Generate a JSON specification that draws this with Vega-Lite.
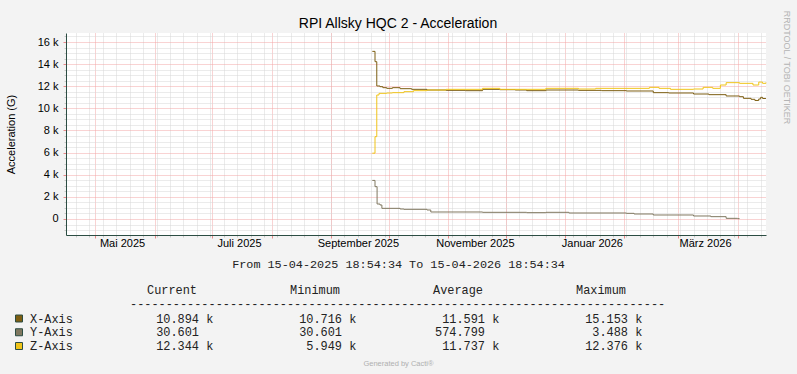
{
  "$schema": "https://vega.github.io/schema/vega-lite/v6.json",
  "autosize": {"type": "none"},
  "width": 700,
  "height": 202,
  "padding": {"left": 66, "top": 33, "right": 31, "bottom": 139},
  "background": "#f3f3f3",
  "config": {"view": {"stroke": null, "fill": "#ffffff"}, "font": "Liberation Sans"},
  "title": {"text": "RPI Allsky HQC 2 - Acceleration", "font": "Liberation Sans", "fontSize": 14, "fontWeight": "normal", "color": "#000000", "anchor": "middle", "frame": "group", "dx": -18, "baseline": "middle", "offset": -28},
  "datasets": {
    "series": [
      {"series": "X-Axis", "time": "2025-09-22T12:00:00Z", "value": 15153},
      {"series": "X-Axis", "time": "2025-09-23T22:00:00Z", "value": 14222},
      {"series": "X-Axis", "time": "2025-09-24T20:00:00Z", "value": 12023},
      {"series": "X-Axis", "time": "2025-09-26T12:00:00Z", "value": 11962},
      {"series": "X-Axis", "time": "2025-09-28T00:00:00Z", "value": 11872},
      {"series": "X-Axis", "time": "2025-09-30T00:00:00Z", "value": 11812},
      {"series": "X-Axis", "time": "2025-10-03T00:00:00Z", "value": 11872},
      {"series": "X-Axis", "time": "2025-10-07T00:00:00Z", "value": 11781},
      {"series": "X-Axis", "time": "2025-10-13T00:00:00Z", "value": 11721},
      {"series": "X-Axis", "time": "2025-10-21T00:00:00Z", "value": 11661},
      {"series": "X-Axis", "time": "2025-10-31T00:00:00Z", "value": 11630},
      {"series": "X-Axis", "time": "2025-11-10T00:00:00Z", "value": 11601},
      {"series": "X-Axis", "time": "2025-11-19T00:00:00Z", "value": 11721},
      {"series": "X-Axis", "time": "2025-11-28T00:00:00Z", "value": 11690},
      {"series": "X-Axis", "time": "2025-12-06T00:00:00Z", "value": 11661},
      {"series": "X-Axis", "time": "2025-12-12T00:00:00Z", "value": 11601},
      {"series": "X-Axis", "time": "2025-12-22T00:00:00Z", "value": 11661},
      {"series": "X-Axis", "time": "2026-01-08T00:00:00Z", "value": 11630},
      {"series": "X-Axis", "time": "2026-01-20T00:00:00Z", "value": 11601},
      {"series": "X-Axis", "time": "2026-02-02T00:00:00Z", "value": 11571},
      {"series": "X-Axis", "time": "2026-02-16T00:00:00Z", "value": 11420},
      {"series": "X-Axis", "time": "2026-02-24T00:00:00Z", "value": 11390},
      {"series": "X-Axis", "time": "2026-03-09T00:00:00Z", "value": 11299},
      {"series": "X-Axis", "time": "2026-03-17T00:00:00Z", "value": 11240},
      {"series": "X-Axis", "time": "2026-03-26T00:00:00Z", "value": 11119},
      {"series": "X-Axis", "time": "2026-04-02T00:00:00Z", "value": 11058},
      {"series": "X-Axis", "time": "2026-04-04T00:00:00Z", "value": 10908},
      {"series": "X-Axis", "time": "2026-04-08T00:00:00Z", "value": 10818},
      {"series": "X-Axis", "time": "2026-04-10T00:00:00Z", "value": 10716},
      {"series": "X-Axis", "time": "2026-04-12T00:00:00Z", "value": 10850},
      {"series": "X-Axis", "time": "2026-04-13T00:00:00Z", "value": 10998},
      {"series": "X-Axis", "time": "2026-04-14T00:00:00Z", "value": 10894},
      {"series": "X-Axis", "time": "2026-04-15T18:00:00Z", "value": 10894},
      {"series": "Y-Axis", "time": "2025-09-22T12:00:00Z", "value": 3488},
      {"series": "Y-Axis", "time": "2025-09-23T22:00:00Z", "value": 2923},
      {"series": "Y-Axis", "time": "2025-09-25T00:00:00Z", "value": 1356},
      {"series": "Y-Axis", "time": "2025-09-26T12:00:00Z", "value": 1266},
      {"series": "Y-Axis", "time": "2025-09-27T12:00:00Z", "value": 964},
      {"series": "Y-Axis", "time": "2025-10-07T00:00:00Z", "value": 904},
      {"series": "Y-Axis", "time": "2025-10-09T00:00:00Z", "value": 874},
      {"series": "Y-Axis", "time": "2025-10-21T00:00:00Z", "value": 814},
      {"series": "Y-Axis", "time": "2025-10-23T00:00:00Z", "value": 633},
      {"series": "Y-Axis", "time": "2025-11-19T00:00:00Z", "value": 603},
      {"series": "Y-Axis", "time": "2025-12-12T00:00:00Z", "value": 572},
      {"series": "Y-Axis", "time": "2025-12-22T00:00:00Z", "value": 603},
      {"series": "Y-Axis", "time": "2026-01-03T00:00:00Z", "value": 542},
      {"series": "Y-Axis", "time": "2026-02-02T00:00:00Z", "value": 512},
      {"series": "Y-Axis", "time": "2026-02-06T00:00:00Z", "value": 452},
      {"series": "Y-Axis", "time": "2026-02-16T00:00:00Z", "value": 362},
      {"series": "Y-Axis", "time": "2026-03-09T00:00:00Z", "value": 271},
      {"series": "Y-Axis", "time": "2026-03-18T00:00:00Z", "value": 211},
      {"series": "Y-Axis", "time": "2026-03-26T00:00:00Z", "value": 60},
      {"series": "Y-Axis", "time": "2026-04-01T00:00:00Z", "value": 30.601},
      {"series": "Y-Axis", "time": "2026-04-02T00:00:00Z", "value": 30.601},
      {"series": "Z-Axis", "time": "2025-09-22T12:00:00Z", "value": 5949},
      {"series": "Z-Axis", "time": "2025-09-23T22:00:00Z", "value": 7442},
      {"series": "Z-Axis", "time": "2025-09-24T20:00:00Z", "value": 11209},
      {"series": "Z-Axis", "time": "2025-09-26T00:00:00Z", "value": 11360},
      {"series": "Z-Axis", "time": "2025-09-30T00:00:00Z", "value": 11390},
      {"series": "Z-Axis", "time": "2025-10-03T00:00:00Z", "value": 11420},
      {"series": "Z-Axis", "time": "2025-10-09T00:00:00Z", "value": 11510},
      {"series": "Z-Axis", "time": "2025-10-14T00:00:00Z", "value": 11601},
      {"series": "Z-Axis", "time": "2025-10-21T00:00:00Z", "value": 11661},
      {"series": "Z-Axis", "time": "2025-10-31T00:00:00Z", "value": 11721},
      {"series": "Z-Axis", "time": "2025-11-19T00:00:00Z", "value": 11812},
      {"series": "Z-Axis", "time": "2025-11-28T00:00:00Z", "value": 11721},
      {"series": "Z-Axis", "time": "2025-12-22T00:00:00Z", "value": 11812},
      {"series": "Z-Axis", "time": "2026-01-08T00:00:00Z", "value": 11751},
      {"series": "Z-Axis", "time": "2026-01-17T00:00:00Z", "value": 11812},
      {"series": "Z-Axis", "time": "2026-02-14T00:00:00Z", "value": 11902},
      {"series": "Z-Axis", "time": "2026-02-19T00:00:00Z", "value": 11812},
      {"series": "Z-Axis", "time": "2026-02-25T00:00:00Z", "value": 11721},
      {"series": "Z-Axis", "time": "2026-03-09T00:00:00Z", "value": 11751},
      {"series": "Z-Axis", "time": "2026-03-14T00:00:00Z", "value": 11902},
      {"series": "Z-Axis", "time": "2026-03-19T00:00:00Z", "value": 11812},
      {"series": "Z-Axis", "time": "2026-03-23T00:00:00Z", "value": 12113},
      {"series": "Z-Axis", "time": "2026-03-26T00:00:00Z", "value": 12324},
      {"series": "Z-Axis", "time": "2026-04-02T00:00:00Z", "value": 12264},
      {"series": "Z-Axis", "time": "2026-04-09T00:00:00Z", "value": 12113},
      {"series": "Z-Axis", "time": "2026-04-12T00:00:00Z", "value": 12376},
      {"series": "Z-Axis", "time": "2026-04-14T00:00:00Z", "value": 12264},
      {"series": "Z-Axis", "time": "2026-04-15T18:00:00Z", "value": 12344}
    ],
    "stats": [
      {"series": "X-Axis", "stat": "Current", "num": "10.894", "unit": "k"},
      {"series": "X-Axis", "stat": "Minimum", "num": "10.716", "unit": "k"},
      {"series": "X-Axis", "stat": "Average", "num": "11.591", "unit": "k"},
      {"series": "X-Axis", "stat": "Maximum", "num": "15.153", "unit": "k"},
      {"series": "Y-Axis", "stat": "Current", "num": "30.601", "unit": ""},
      {"series": "Y-Axis", "stat": "Minimum", "num": "30.601", "unit": ""},
      {"series": "Y-Axis", "stat": "Average", "num": "574.799", "unit": ""},
      {"series": "Y-Axis", "stat": "Maximum", "num": "3.488", "unit": "k"},
      {"series": "Z-Axis", "stat": "Current", "num": "12.344", "unit": "k"},
      {"series": "Z-Axis", "stat": "Minimum", "num": "5.949", "unit": "k"},
      {"series": "Z-Axis", "stat": "Average", "num": "11.737", "unit": "k"},
      {"series": "Z-Axis", "stat": "Maximum", "num": "12.376", "unit": "k"}
    ],
    "columns": [{"stat": "Current"}, {"stat": "Minimum"}, {"stat": "Average"}, {"stat": "Maximum"}],
    "legendRows": [{"series": "X-Axis"}, {"series": "Y-Axis"}, {"series": "Z-Axis"}],
    "separator": [{"line": "---------------------------------------------------------------------------"}]
  },
  "layer": [
    {
      "layer": [
        {
          "data": {"name": "series"},
          "transform": [{"filter": "datum.series === 'X-Axis'"}],
          "mark": {"type": "line", "interpolate": "step-after", "strokeWidth": 1},
          "encoding": {
            "x": {"field": "time", "type": "temporal",
              "scale": {"type": "utc", "nice": false, "domain": [{"year": 2025, "month": 4, "date": 15, "hours": 18, "minutes": 54, "seconds": 34, "utc": true}, {"year": 2026, "month": 4, "date": 15, "hours": 18, "minutes": 54, "seconds": 34, "utc": true}]},
              "axis": {"orient": "bottom", "values": [1745193600000,1745798400000,1746403200000,1747008000000,1747612800000,1748217600000,1748822400000,1749427200000,1750032000000,1750636800000,1751241600000,1751846400000,1752451200000,1753056000000,1753660800000,1754265600000,1754870400000,1755475200000,1756080000000,1756684800000,1757289600000,1757894400000,1758499200000,1759104000000,1759708800000,1760313600000,1760918400000,1761523200000,1762128000000,1762732800000,1763337600000,1763942400000,1764547200000,1765152000000,1765756800000,1766361600000,1766966400000,1767571200000,1768176000000,1768780800000,1769385600000,1769990400000,1770595200000,1771200000000,1771804800000,1772409600000,1773014400000,1773619200000,1774224000000,1774828800000,1775433600000,1776038400000],
                "grid": true, "gridColor": "#d6d6d6", "gridDash": [1, 1], "gridWidth": 1,
                "ticks": true, "tickSize": 2, "tickColor": "#c8c8c8", "labels": false, "domain": false,
                "title": "Generated by Cacti®", "titleFont": "Liberation Sans", "titleFontSize": 7.5, "titleFontWeight": "normal", "titleColor": "#b0b0b0",
                "titleX": 332, "titleY": 128, "titleAlign": "center", "titleBaseline": "middle", "titleAnchor": null}},
            "y": {"field": "value", "type": "quantitative",
              "scale": {"domain": [-1447, 16814], "nice": false, "zero": false},
              "axis": {"orient": "left", "values": [-1000,-500,500,1000,1500,2500,3000,3500,4500,5000,5500,6500,7000,7500,8500,9000,9500,10500,11000,11500,12500,13000,13500,14500,15000,15500,16500],
                "grid": true, "gridColor": "#d6d6d6", "gridDash": [1, 1], "ticks": true, "tickSize": 2, "tickColor": "#c8c8c8",
                "labels": false, "domain": false, "title": null}},
            "color": {"field": "series", "type": "nominal", "scale": {"domain": ["X-Axis", "Y-Axis", "Z-Axis"], "range": ["#7d5e12", "#807860", "#f0c419"]}, "legend": null}
          }
        },
        {
          "data": {"name": "series"},
          "transform": [{"filter": "datum.series === 'Y-Axis'"}],
          "mark": {"type": "line", "interpolate": "step-after", "strokeWidth": 1},
          "encoding": {
            "x": {"field": "time", "type": "temporal",
              "axis": {"orient": "bottom", "values": [1746057600000,1748736000000,1751328000000,1754006400000,1756684800000,1759276800000,1761955200000,1764547200000,1767225600000,1769904000000,1772323200000,1775001600000],
                "grid": true, "gridColor": "#f2a6a6", "gridDash": [1, 1], "gridWidth": 1,
                "ticks": true, "tickSize": 3, "tickColor": "#e88a8a", "labels": false, "domain": false, "title": null}},
            "y": {"field": "value", "type": "quantitative",
              "axis": {"orient": "left", "values": [0, 2000, 4000, 6000, 8000, 10000, 12000, 14000, 16000],
                "grid": true, "gridColor": "#f2a6a6", "gridDash": [1, 1], "ticks": true, "tickSize": 3, "tickColor": "#e88a8a",
                "labels": true, "labelExpr": "datum.value == 0 ? '0' : (datum.value / 1000) + ' k'",
                "labelFont": "Liberation Sans", "labelFontSize": 11, "labelColor": "#000000", "labelPadding": 5,
                "domain": true, "domainColor": "#2c4d43", "domainWidth": 1,
                "title": "Acceleration (G)", "titleFont": "Liberation Sans", "titleFontSize": 11, "titleFontWeight": "normal", "titleColor": "#000000",
                "titleX": -55, "titleY": 101, "titleAngle": -90, "titleAlign": "center", "titleBaseline": "middle", "titleAnchor": null}},
            "color": {"field": "series", "type": "nominal", "legend": null}
          }
        },
        {
          "data": {"name": "series"},
          "transform": [{"filter": "datum.series === 'Z-Axis'"}],
          "mark": {"type": "line", "interpolate": "step-after", "strokeWidth": 1},
          "encoding": {
            "x": {"field": "time", "type": "temporal",
              "axis": {"orient": "bottom", "values": [1747267200000,1752537600000,1757894400000,1763164800000,1768435200000,1773532800000],
                "grid": false, "ticks": false, "labels": true,
                "labelExpr": "['Januar','Februar','März','April','Mai','Juni','Juli','August','September','Oktober','November','Dezember'][utcmonth(datum.value)] + ' ' + utcyear(datum.value)",
                "labelFont": "Liberation Sans", "labelFontSize": 11, "labelColor": "#000000", "labelBaseline": "middle", "labelAlign": "center", "labelPadding": 8.5,
                "labelOverlap": false, "labelFlush": false,
                "domain": true, "domainColor": "#2c4d43", "domainWidth": 1,
                "title": "From 15-04-2025 18:54:34 To 15-04-2026 18:54:34", "titleFont": "Liberation Mono", "titleFontSize": 11.8, "titleFontWeight": "normal", "titleColor": "#222222",
                "titleX": 332, "titleY": 28, "titleAlign": "center", "titleBaseline": "middle", "titleAnchor": null}},
            "y": {"field": "value", "type": "quantitative",
              "axis": {"orient": "right", "grid": false, "ticks": false, "labels": false, "domain": false,
                "title": "RRDTOOL / TOBI OETIKER", "titleFont": "Liberation Sans", "titleFontSize": 9, "titleFontWeight": "normal", "titleColor": "#b4b4b4",
                "titleX": 20.5, "titleY": 34, "titleAngle": 90, "titleAlign": "center", "titleBaseline": "middle", "titleAnchor": null}},
            "color": {"field": "series", "type": "nominal", "legend": null}
          }
        }
      ],
      "resolve": {"axis": {"x": "independent", "y": "independent"}}
    },
    {
      "layer": [
        {
          "data": {"name": "legendRows"},
          "mark": {"type": "square", "size": 49, "filled": true, "opacity": 1, "stroke": "#2c4d43", "strokeWidth": 1, "xOffset": -37},
          "encoding": {
            "x": {"datum": "Name", "type": "nominal", "scale": {"type": "point", "domain": ["Name", "Current", "Minimum", "Average", "Maximum"], "range": [-10, 562], "padding": 0}, "axis": null},
            "y": {"field": "series", "type": "nominal", "scale": {"type": "point", "domain": ["Head", "Dash", "X-Axis", "Y-Axis", "Z-Axis"], "range": [258, 313], "padding": 0}, "axis": null},
            "color": {"field": "series", "type": "nominal", "legend": null}
          }
        },
        {
          "data": {"name": "legendRows"},
          "mark": {"type": "text", "align": "left", "baseline": "middle", "dx": -26, "font": "Liberation Mono", "fontSize": 11.9, "color": "#222222"},
          "encoding": {
            "x": {"datum": "Name", "type": "nominal", "axis": null},
            "y": {"field": "series", "type": "nominal", "axis": null},
            "text": {"field": "series"}
          }
        },
        {
          "data": {"name": "columns"},
          "mark": {"type": "text", "align": "center", "baseline": "middle", "dx": -27, "dy": -1.5, "font": "Liberation Mono", "fontSize": 11.9, "color": "#222222"},
          "encoding": {
            "x": {"field": "stat", "type": "nominal", "axis": null},
            "y": {"datum": "Head", "type": "nominal", "axis": null},
            "text": {"field": "stat"}
          }
        },
        {
          "data": {"name": "separator"},
          "mark": {"type": "text", "align": "left", "baseline": "middle", "dx": -69, "dy": -0.5, "font": "Liberation Mono", "fontSize": 11.9, "color": "#222222"},
          "encoding": {
            "x": {"datum": "Current", "type": "nominal", "axis": null},
            "y": {"datum": "Dash", "type": "nominal", "axis": null},
            "text": {"field": "line"}
          }
        },
        {
          "data": {"name": "stats"},
          "mark": {"type": "text", "align": "right", "baseline": "middle", "font": "Liberation Mono", "fontSize": 11.9, "color": "#222222"},
          "encoding": {
            "x": {"field": "stat", "type": "nominal", "axis": null},
            "y": {"field": "series", "type": "nominal", "axis": null},
            "text": {"field": "num"}
          }
        },
        {
          "data": {"name": "stats"},
          "mark": {"type": "text", "align": "left", "baseline": "middle", "dx": 7.15, "font": "Liberation Mono", "fontSize": 11.9, "color": "#222222"},
          "encoding": {
            "x": {"field": "stat", "type": "nominal", "axis": null},
            "y": {"field": "series", "type": "nominal", "axis": null},
            "text": {"field": "unit"}
          }
        }
      ]
    }
  ],
  "resolve": {"scale": {"x": "independent", "y": "independent"}}
}
